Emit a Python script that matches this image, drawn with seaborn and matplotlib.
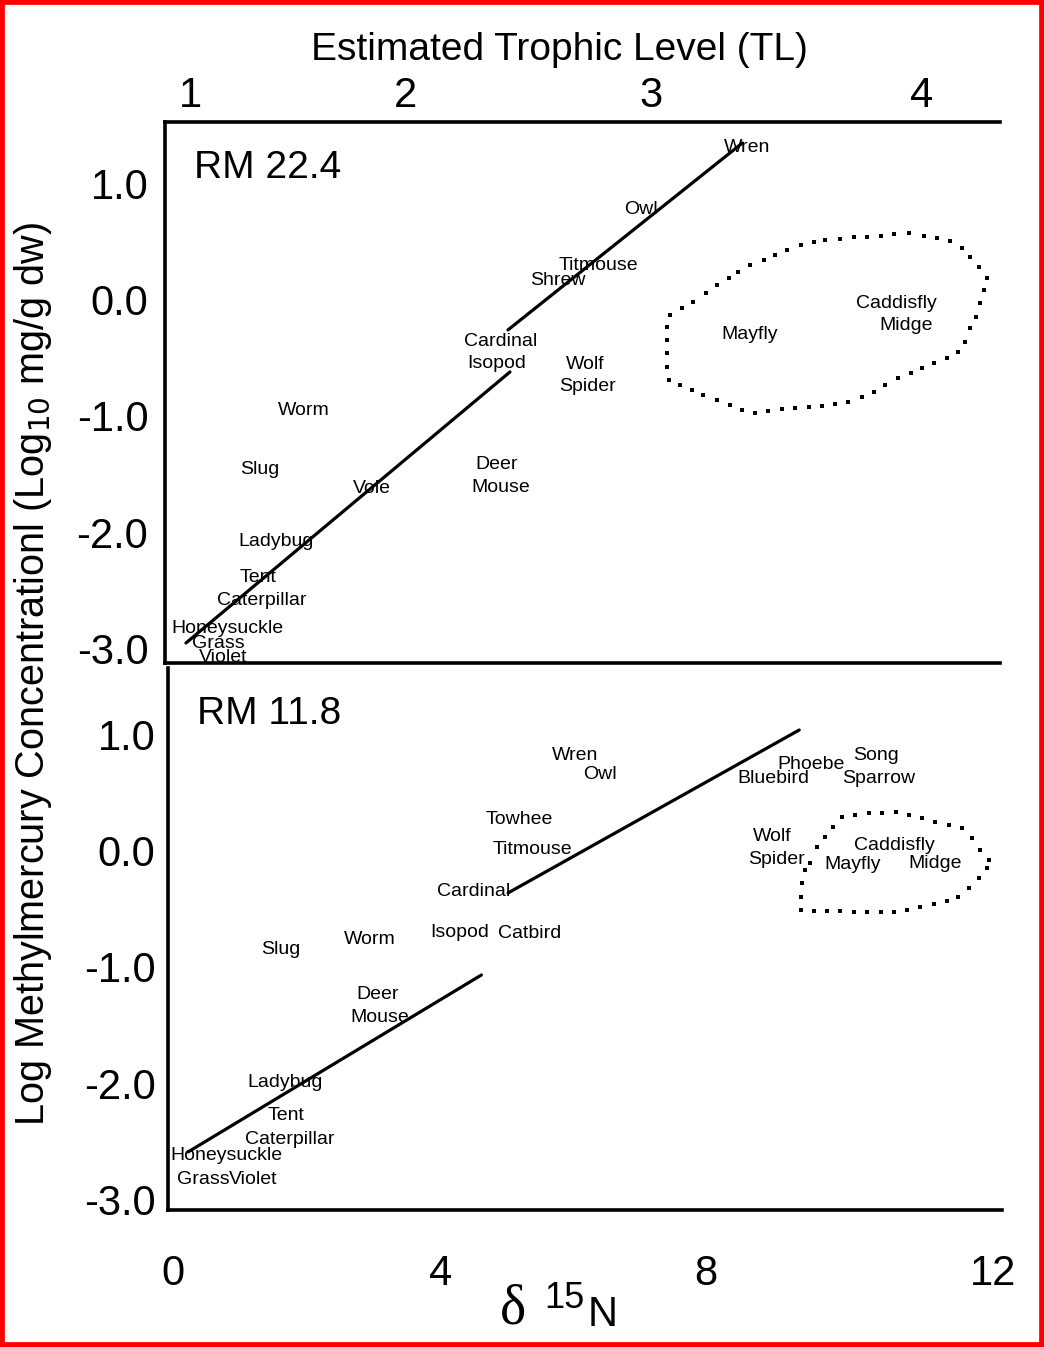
import matplotlib
matplotlib.use("Agg")
import matplotlib.pyplot as plt
import seaborn as sns
import pandas as pd
from matplotlib.patches import Rectangle

sns.set_style("white")
plt.rcParams["font.family"] = ["Liberation Sans", "DejaVu Sans"]
plt.rcParams["text.color"] = "black"
plt.rcParams["xtick.color"] = "black"
plt.rcParams["ytick.color"] = "black"
plt.rcParams["axes.labelcolor"] = "black"

# axis ticks (the original's tick labels sit slightly off a linear scale)
y_ticks = [1.0, 0.0, -1.0, -2.0, -3.0]
y_tick_labels = ["1.0", "0.0", "-1.0", "-2.0", "-3.0"]
x_ticks = [0, 3.91, 7.80, 12]
x_tick_labels = ["0", "4", "8", "12"]
tl_pos = [0.25, 3.4, 7.0, 10.95]   # trophic level positions on the d15N scale
tl_labels = ["1", "2", "3", "4"]

# RM 22.4 (upper panel)
up_names = ["Wren", "Owl", "Titmouse", "Shrew", "Cardinal", "Isopod", "Wolf", "Spider",
            "Worm", "Slug", "Vole", "Deer", "Mouse", "Ladybug", "Tent", "Caterpillar",
            "Honeysuckle", "Grass", "Violet", "Mayfly", "Caddisfly", "Midge"]
up_x = [8.40, 6.85, 6.23, 5.63, 4.79, 4.74, 6.03, 6.07,
        1.92, 1.27, 2.91, 4.74, 4.79, 1.51, 1.24, 1.30,
        0.80, 0.66, 0.73, 8.43, 10.58, 10.73]
up_y = [1.31, 0.775, 0.294, 0.165, -0.360, -0.549, -0.558, -0.747,
        -0.953, -1.460, -1.624, -1.417, -1.615, -2.079, -2.389, -2.587,
        -2.827, -2.956, -3.08, -0.299, -0.033, -0.222]
up_fit_x = [[0.19, 4.93], [4.90, 8.33]]
up_fit_y = [[-2.954, -0.623], [-0.262, 1.346]]
# dots of the dotted outline around the aquatic insects
up_dot_x = [7.27, 7.44, 7.61, 7.79, 7.96, 8.13, 8.27, 8.44, 8.64, 8.81, 8.98, 9.18, 9.37,
            9.54, 9.76, 9.96, 10.15, 10.35, 10.54, 10.76, 10.98, 11.18, 11.37, 11.54,
            11.66, 11.79, 11.91, 11.86, 11.81, 11.74, 11.66, 11.59, 11.49, 11.32, 11.13,
            10.96, 10.79, 10.61, 10.42, 10.25, 10.08, 9.88, 9.69, 9.49, 9.30, 9.10, 8.91,
            8.71, 8.52, 8.32, 8.15, 7.96, 7.76, 7.59, 7.42, 7.25, 7.22, 7.22, 7.22, 7.22]
up_dot_y = [-0.133, -0.076, -0.019, 0.053, 0.125, 0.182, 0.239, 0.297, 0.340, 0.383, 0.426,
            0.469, 0.497, 0.512, 0.520, 0.534, 0.540, 0.549, 0.560, 0.569, 0.546, 0.526,
            0.506, 0.446, 0.368, 0.282, 0.182, 0.081, -0.033, -0.148, -0.248, -0.363,
            -0.449, -0.506, -0.549, -0.592, -0.635, -0.678, -0.735, -0.793, -0.836, -0.879,
            -0.899, -0.916, -0.922, -0.930, -0.944, -0.959, -0.979, -0.951, -0.908, -0.865,
            -0.822, -0.779, -0.735, -0.692, -0.578, -0.463, -0.349, -0.234]

# RM 11.8 (lower panel)
lo_names = ["Wren", "Owl", "Towhee", "Titmouse", "Cardinal", "Isopod", "Catbird", "Slug",
            "Worm", "Deer", "Mouse", "Ladybug", "Tent", "Caterpillar", "Honeysuckle",
            "Grass", "Violet", "Phoebe", "Bluebird", "Song", "Sparrow", "Wolf", "Spider",
            "Caddisfly", "Mayfly", "Midge"]
lo_x = [5.88, 6.25, 5.06, 5.25, 4.39, 4.20, 5.22, 1.57,
        2.88, 2.99, 3.02, 1.64, 1.65, 1.71, 0.78,
        0.44, 1.17, 9.34, 8.78, 10.29, 10.32, 8.77, 8.83,
        10.55, 9.94, 11.15]
lo_y = [0.818, 0.655, 0.269, 0.011, -0.350, -0.702, -0.711, -0.848,
        -0.762, -1.235, -1.432, -1.990, -2.274, -2.480, -2.618,
        -2.824, -2.824, 0.741, 0.621, 0.818, 0.621, 0.123, -0.074,
        0.046, -0.117, -0.109]
lo_fit_x = [[0.22, 4.51], [4.90, 9.16]]
lo_fit_y = [[-2.589, -1.069], [-0.364, 1.036]]
lo_dot_x = [9.18, 9.37, 9.57, 9.76, 9.96, 10.15, 10.35, 10.54, 10.74, 10.93, 11.13, 11.32,
            11.49, 11.64, 11.79, 11.91, 11.93, 11.81, 11.69, 11.54, 11.35, 11.15, 10.96,
            10.76, 10.57, 10.37, 10.18, 9.98, 9.79, 9.66, 9.54, 9.42, 9.32, 9.25, 9.20, 9.18]
lo_dot_y = [-0.510, -0.516, -0.522, -0.522, -0.527, -0.527, -0.530, -0.525, -0.510, -0.487,
            -0.459, -0.433, -0.396, -0.324, -0.238, -0.152, -0.081, 0.005, 0.106, 0.192,
            0.220, 0.248, 0.277, 0.306, 0.334, 0.320, 0.320, 0.306, 0.291, 0.205, 0.119,
            0.034, -0.109, -0.167, -0.281, -0.396]


def draw_panel(ax, names, xs, ys, fit_x, fit_y, dot_x, dot_y, site):
    for fx, fy in zip(fit_x, fit_y):
        sns.lineplot(x=fx, y=fy, ax=ax, color="black", linewidth=2.3, sort=False, estimator=None)
    dots = pd.DataFrame({"x": dot_x, "y": dot_y})
    sns.scatterplot(data=dots, x="x", y="y", ax=ax, color="black", marker="s", s=6,
                    linewidth=0)
    for n, x, y in zip(names, xs, ys):
        ax.text(x, y, n, ha="center", va="center", fontsize=14)
    ax.text(0.035, 0.915, site, transform=ax.transAxes, fontsize=28, va="center", ha="left")
    ax.set_yticks(y_ticks, y_tick_labels)
    ax.set_xlabel("")
    ax.set_ylabel("")
    for s in ax.spines.values():
        s.set_linewidth(2.6)
        s.set_color("black")


fig = plt.figure(figsize=(10.44, 13.47), dpi=100)
ax1 = fig.add_axes([0.158, 0.5078, 0.800, 0.4016])
ax2 = fig.add_axes([0.161, 0.1017, 0.799, 0.4024])

draw_panel(ax1, up_names, up_x, up_y, up_fit_x, up_fit_y, up_dot_x, up_dot_y, "RM 22.4")
draw_panel(ax2, lo_names, lo_x, lo_y, lo_fit_x, lo_fit_y, lo_dot_x, lo_dot_y, "RM 11.8")

ax1.set_xlim(-0.117, 12.10)
ax1.set_ylim(-3.126, 1.526)
ax1.spines["right"].set_visible(False)
ax1.xaxis.tick_top()
ax1.set_xticks(tl_pos, tl_labels)
ax1.tick_params(axis="x", length=0, labelsize=30, pad=4)
ax1.tick_params(axis="y", length=0, labelsize=30, pad=12)

ax2.set_xlim(-0.073, 12.13)
ax2.set_ylim(-3.088, 1.569)
ax2.spines["right"].set_visible(False)
ax2.spines["top"].set_visible(False)
ax2.set_xticks(x_ticks, x_tick_labels)
ax2.tick_params(axis="x", length=0, labelsize=30, pad=32)
ax2.tick_params(axis="y", length=0, labelsize=30, pad=9)

fig.text(0.536, 0.963, "Estimated Trophic Level (TL)", ha="center", va="center", fontsize=28)
fig.text(0.032, 0.4995, "Log Methylmercury Concentrationl (Log$_{10}$ mg/g dw)",
         rotation=90, ha="center", va="center", fontsize=28.5)
fig.text(0.491, 0.028, "δ", ha="center", va="center", fontsize=40, family="Liberation Serif")
fig.text(0.541, 0.036, "15", ha="center", va="center", fontsize=26)
fig.text(0.577, 0.024, "N", ha="center", va="center", fontsize=30)

fig.patches.append(Rectangle((0, 0), 1, 1, transform=fig.transFigure, fill=False,
                             edgecolor="red", linewidth=7, zorder=10))

fig.savefig("out.png", dpi=100)
plt.close(fig)
